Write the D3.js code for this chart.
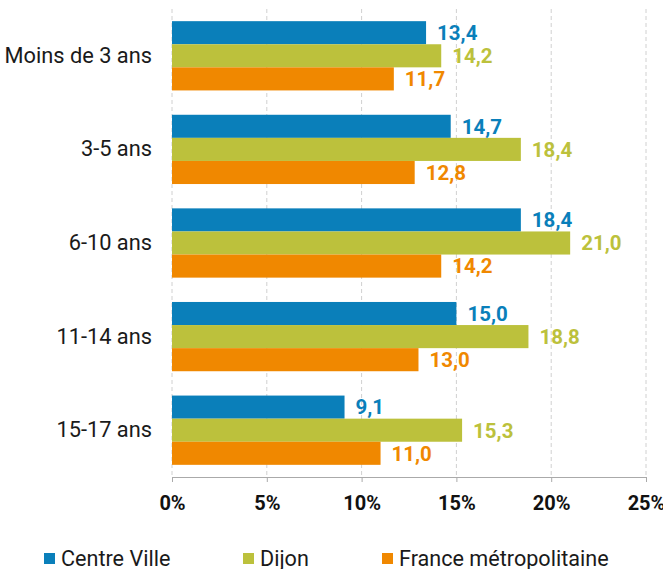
<!DOCTYPE html>
<html>
<head>
<meta charset="utf-8">
<script src="https://cdn.jsdelivr.net/npm/d3@7"></script>
<style>
  body { margin: 0; background: #fff; }
  svg { display: block; font-family: Roboto, "Noto Sans", sans-serif; }
</style>
</head>
<body>
<div id="chart"></div>
<script>
// age groups, top to bottom
const categories = ["Moins de 3 ans", "3-5 ans", "6-10 ans", "11-14 ans", "15-17 ans"];
const series = ["Centre Ville", "Dijon", "France métropolitaine"];
const centreVille = [13.4, 14.7, 18.4, 15.0, 9.1];
const dijon = [14.2, 18.4, 21.0, 18.8, 15.3];
const france = [11.7, 12.8, 14.2, 13.0, 11.0];
const ticks = [0, 5, 10, 15, 20, 25];
const colors = ["#0a7fba", "#bcc13c", "#f08800"];

const values = [centreVille, dijon, france];
const rows = [];
categories.forEach((c, i) => {
  series.forEach((s, j) => rows.push({ cat: c, serie: s, idx: j, value: values[j][i] }));
});

const width = 663, height = 569;
const svg = d3.select("#chart").append("svg")
  .attr("width", width).attr("height", height);

const x = d3.scaleLinear().domain([0, 25]).range([172, 646]);
const y = d3.scaleBand().domain(categories).range([9, 477])
  .paddingInner(0.26).paddingOuter(0.13);
const ySub = d3.scaleBand().domain(series).range([0, y.bandwidth()]);
const color = d3.scaleOrdinal().domain(series).range(colors);
const fr = d3.formatLocale({ decimal: ",", thousands: " ", grouping: [3], currency: ["", "€"] });
const fmt = fr.format(".1f");

// dashed grid
svg.append("g").selectAll("line").data(ticks).join("line")
  .attr("x1", d => x(d)).attr("x2", d => x(d))
  .attr("y1", 9).attr("y2", 477)
  .attr("stroke", "#d0d0d0").attr("stroke-dasharray", "4,3");

// bars
svg.append("g").selectAll("rect").data(rows).join("rect")
  .attr("x", x(0))
  .attr("y", d => y(d.cat) + ySub(d.serie))
  .attr("width", d => x(d.value) - x(0))
  .attr("height", ySub.bandwidth())
  .attr("fill", d => color(d.serie));

// value labels
svg.append("g").selectAll("text").data(rows).join("text")
  .attr("x", d => x(d.value) + 11)
  .attr("y", d => y(d.cat) + ySub(d.serie) + ySub.bandwidth() / 2)
  .attr("dy", "0.36em")
  .attr("font-size", 20.5).attr("font-weight", "bold")
  .attr("fill", d => color(d.serie))
  .text(d => fmt(d.value));

// x axis
const xAxis = svg.append("g").attr("transform", "translate(0,477)")
  .call(d3.axisBottom(x).tickValues(ticks).tickSize(5).tickPadding(14).tickFormat(d => d + "%"));
xAxis.select(".domain").attr("stroke", "#aaa");
xAxis.selectAll(".tick line").attr("stroke", "#aaa");
xAxis.selectAll(".tick text")
  .attr("font-family", "Roboto, sans-serif")
  .attr("font-size", 20).attr("font-weight", "bold").attr("fill", "#111");

// y labels
const yAxis = svg.append("g").attr("transform", "translate(172,0)")
  .call(d3.axisLeft(y).tickSize(0).tickPadding(20));
yAxis.select(".domain").remove();
yAxis.selectAll(".tick text")
  .attr("font-family", "Roboto, sans-serif")
  .attr("font-size", 21.8).attr("fill", "#1a1a1a");

// legend
const legendX = [44, 243, 382];
const lg = svg.append("g").selectAll("g").data(series).join("g")
  .attr("transform", (d, i) => `translate(${legendX[i]},553)`);
lg.append("rect").attr("width", 11).attr("height", 11).attr("fill", d => color(d));
lg.append("text").attr("x", 17).attr("y", 5.5).attr("dy", "0.36em")
  .attr("font-size", 21.6).attr("fill", "#1a1a1a").text(d => d);
</script>
</body>
</html>
